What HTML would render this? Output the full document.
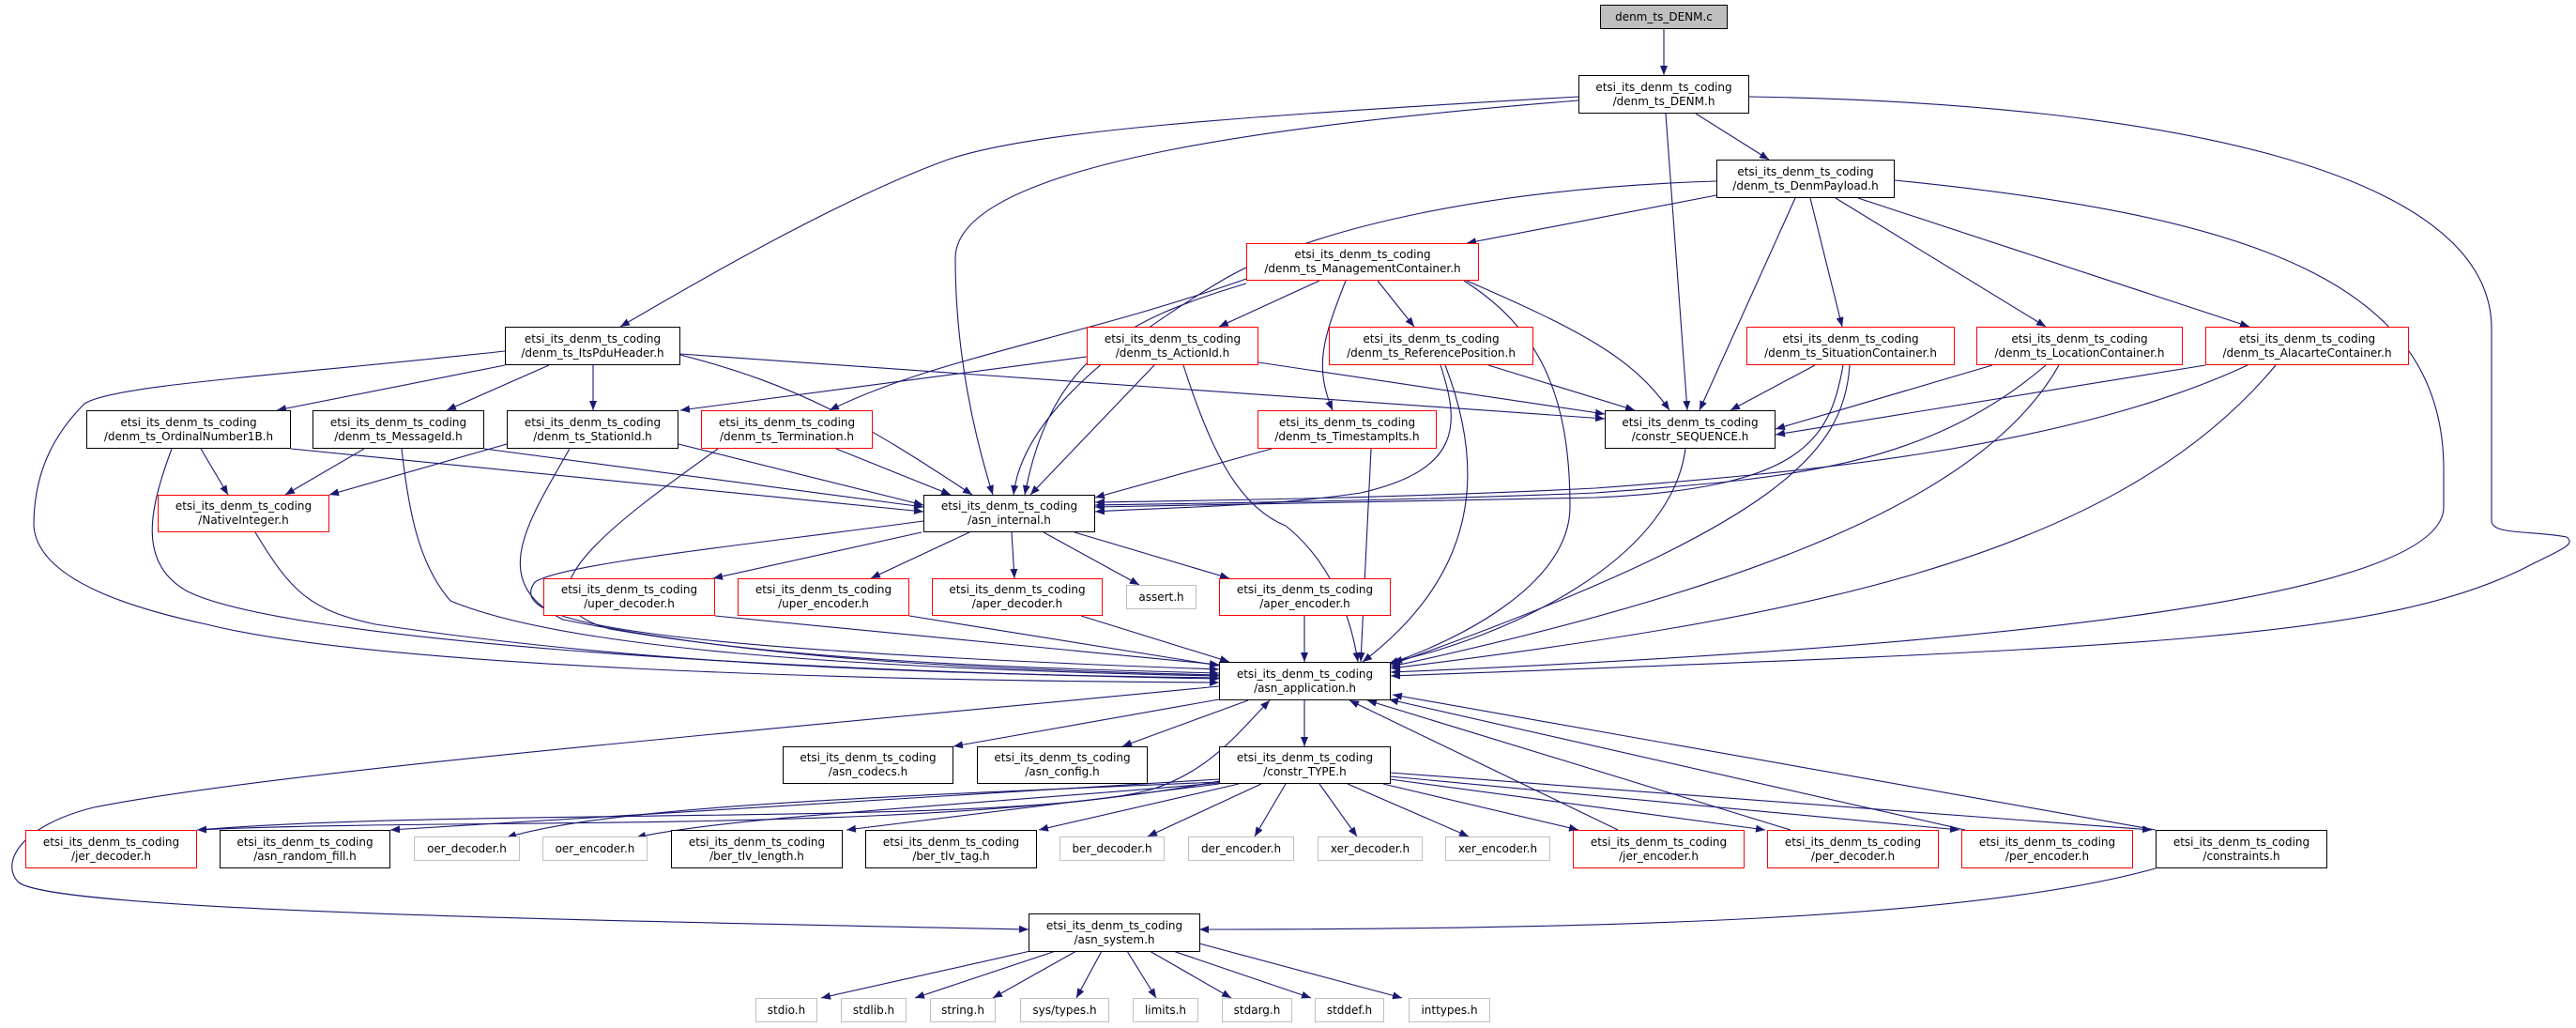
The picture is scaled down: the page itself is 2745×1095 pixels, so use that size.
<!DOCTYPE html>
<html><head><meta charset="utf-8"><style>
body{margin:0;background:#fff;width:2745px;height:1095px;position:relative;overflow:hidden;font-family:"DejaVu Sans","Liberation Sans",sans-serif;}
.n{position:absolute;box-sizing:border-box;border:1px solid #000;background:#fff;font-size:12px;line-height:15px;text-align:center;display:flex;flex-direction:column;justify-content:center;align-items:center;white-space:nowrap;color:#000}
.r{border-color:#ff0000}
.g{border-color:#bfbfbf}
svg{position:absolute;left:0;top:0}
</style></head><body>
<svg width="2745" height="1095" viewBox="0 0 2745 1095">
<defs><marker id="a" markerWidth="10" markerHeight="8" refX="10" refY="4" orient="auto" markerUnits="userSpaceOnUse"><path d="M0,0 L10,4 L0,8 z" fill="#191970"/></marker></defs>
<g fill="none" stroke="#191970" stroke-width="1.1" marker-end="url(#a)">
<path d="M1773,31 L1773,80"/>
<path d="M1682,103 C1300,125 1100,140 1010,170 C900,210 760,290 661,348"/>
<path d="M1682,107 C1400,130 1018,170 1018,275 C1018,380 1040,470 1058,527"/>
<path d="M1775,121 L1798,437"/>
<path d="M1807,121 L1885,170"/>
<path d="M1864,103 C2300,110 2655,180 2655,350 L2655,555 C2655,570 2700,565 2735,572 C2745,580 2730,585 2700,600 C2550,680 2300,690 1482,720"/>
<path d="M2019,192 C2400,230 2604,300 2604,500 L2604,540 C2604,640 2100,690 1482,716"/>
<path d="M1829,208 L1563,259"/>
<path d="M1829,193 C1600,200 1400,240 1300,300 C1200,360 1090,440 1080,527"/>
<path d="M1913,211 L1811,437"/>
<path d="M1929,211 L1963,348"/>
<path d="M1956,211 L2180,348"/>
<path d="M1980,211 L2397,348"/>
<path d="M1406,299 L1299,348"/>
<path d="M1328,297 C1150,360 1000,380 884,437"/>
<path d="M1328,302 C1200,340 1120,380 1092,527"/>
<path d="M1468,299 L1507,348"/>
<path d="M1434,299 C1410,360 1400,390 1420,437"/>
<path d="M1563,299 C1680,350 1740,380 1779,437"/>
<path d="M1560,299 C1640,350 1673,420 1673,540 C1673,620 1560,680 1480,707"/>
<path d="M1158,380 L725,437"/>
<path d="M1230,389 L1098,527"/>
<path d="M1341,386 L1710,441"/>
<path d="M1261,389 C1290,480 1320,540 1370,560 C1420,600 1440,660 1447,705"/>
<path d="M1586,389 L1742,437"/>
<path d="M1535,389 C1555,450 1560,500 1450,525 C1350,540 1250,540 1167,545"/>
<path d="M1540,389 C1575,480 1590,600 1452,705"/>
<path d="M1355,478 L1167,530"/>
<path d="M1461,478 L1450,705"/>
<path d="M1934,389 L1844,437"/>
<path d="M1964,389 C1950,470 1920,520 1700,530 C1500,535 1300,538 1167,540"/>
<path d="M1971,389 C1965,480 1900,560 1482,708"/>
<path d="M2123,389 L1892,457"/>
<path d="M2180,389 C2050,500 1900,510 1700,525 C1500,533 1300,536 1167,538"/>
<path d="M2194,389 C2120,520 1900,620 1482,710"/>
<path d="M2350,389 L1892,463"/>
<path d="M2395,389 C2200,480 1900,505 1700,520 C1500,530 1300,533 1167,535"/>
<path d="M2425,389 C2250,600 1900,660 1482,712"/>
<path d="M1796,478 C1780,600 1600,680 1484,705"/>
<path d="M538,389 L295,437"/>
<path d="M585,389 L476,437"/>
<path d="M632,389 L632,437"/>
<path d="M725,378 C850,410 920,450 1036,527"/>
<path d="M725,377 L1710,446"/>
<path d="M538,374 C300,400 120,410 90,430 C60,460 36,500 36,560 C40,620 150,650 220,665 C400,710 900,725 1299,727"/>
<path d="M214,478 L243,527"/>
<path d="M310,478 L984,545"/>
<path d="M183,478 C160,540 145,600 200,630 C300,680 800,715 1299,723"/>
<path d="M388,478 L304,527"/>
<path d="M516,478 L984,540"/>
<path d="M428,478 C435,540 445,600 480,640 C600,690 900,712 1299,720"/>
<path d="M540,473 L351,527"/>
<path d="M723,473 L984,538"/>
<path d="M607,478 C560,560 520,620 600,660 C800,700 1000,712 1299,719"/>
<path d="M891,478 L1013,527"/>
<path d="M765,478 C650,560 540,640 650,670 C850,705 1100,712 1299,717"/>
<path d="M272,567 C310,630 330,650 400,665 C700,710 1000,718 1299,722"/>
<path d="M982,567 L760,616"/>
<path d="M1033,567 L928,616"/>
<path d="M1078,567 L1081,616"/>
<path d="M1112,567 L1214,623"/>
<path d="M1145,567 L1310,616"/>
<path d="M984,555 C800,580 600,600 570,620 C540,660 650,690 1299,713"/>
<path d="M762,656 L1299,708"/>
<path d="M969,656 L1299,709"/>
<path d="M1152,656 L1310,705"/>
<path d="M1390,656 L1390,705"/>
<path d="M1299,745 L1016,795"/>
<path d="M1330,746 L1196,795"/>
<path d="M1390,746 L1390,795"/>
<path d="M1299,731 C900,770 300,820 100,860 C20,880 0,920 20,940 C60,970 600,980 1096,990"/>
<path d="M210,884 C500,860 1100,880 1230,840 C1290,820 1320,780 1353,746"/>
<path d="M1299,832 C1000,890 500,870 210,884"/>
<path d="M1299,830 L416,884"/>
<path d="M1299,833 C900,850 650,860 540,892"/>
<path d="M1299,834 C1000,860 780,870 678,892"/>
<path d="M1299,835 L902,884"/>
<path d="M1320,835 L1107,884"/>
<path d="M1344,835 L1223,891"/>
<path d="M1370,835 L1337,891"/>
<path d="M1406,835 L1446,891"/>
<path d="M1436,835 L1565,891"/>
<path d="M1474,835 L1682,884"/>
<path d="M1481,830 L1881,884"/>
<path d="M1481,827 L2088,884"/>
<path d="M1481,823 L2293,884"/>
<path d="M1724,884 L1438,746"/>
<path d="M1908,884 L1457,746"/>
<path d="M2094,884 L1480,745"/>
<path d="M2297,884 L1484,740"/>
<path d="M2297,925 C2100,980 1700,990 1278,990"/>
<path d="M1098,1013 L875,1063"/>
<path d="M1125,1013 L975,1063"/>
<path d="M1147,1013 L1058,1063"/>
<path d="M1174,1013 L1147,1063"/>
<path d="M1201,1013 L1232,1063"/>
<path d="M1225,1013 L1312,1063"/>
<path d="M1250,1013 L1397,1063"/>
<path d="M1278,1005 L1494,1063"/>
</g>
</svg>
<div class="n" style="left:1705px;top:5px;width:136px;height:26px;background:#bfbfbf">denm_ts_DENM.c</div>
<div class="n" style="left:1682px;top:80px;width:182px;height:41px">etsi_its_denm_ts_coding<br>/denm_ts_DENM.h</div>
<div class="n" style="left:1829px;top:170px;width:190px;height:41px">etsi_its_denm_ts_coding<br>/denm_ts_DenmPayload.h</div>
<div class="n r" style="left:1328px;top:259px;width:248px;height:40px">etsi_its_denm_ts_coding<br>/denm_ts_ManagementContainer.h</div>
<div class="n" style="left:538px;top:348px;width:187px;height:41px">etsi_its_denm_ts_coding<br>/denm_ts_ItsPduHeader.h</div>
<div class="n r" style="left:1158px;top:348px;width:183px;height:41px">etsi_its_denm_ts_coding<br>/denm_ts_ActionId.h</div>
<div class="n r" style="left:1416px;top:348px;width:218px;height:41px">etsi_its_denm_ts_coding<br>/denm_ts_ReferencePosition.h</div>
<div class="n r" style="left:1861px;top:348px;width:222px;height:41px">etsi_its_denm_ts_coding<br>/denm_ts_SituationContainer.h</div>
<div class="n r" style="left:2106px;top:348px;width:220px;height:41px">etsi_its_denm_ts_coding<br>/denm_ts_LocationContainer.h</div>
<div class="n r" style="left:2350px;top:348px;width:217px;height:41px">etsi_its_denm_ts_coding<br>/denm_ts_AlacarteContainer.h</div>
<div class="n" style="left:92px;top:437px;width:218px;height:41px">etsi_its_denm_ts_coding<br>/denm_ts_OrdinalNumber1B.h</div>
<div class="n" style="left:333px;top:437px;width:183px;height:41px">etsi_its_denm_ts_coding<br>/denm_ts_MessageId.h</div>
<div class="n" style="left:540px;top:437px;width:183px;height:41px">etsi_its_denm_ts_coding<br>/denm_ts_StationId.h</div>
<div class="n r" style="left:747px;top:437px;width:183px;height:41px">etsi_its_denm_ts_coding<br>/denm_ts_Termination.h</div>
<div class="n r" style="left:1340px;top:437px;width:191px;height:41px">etsi_its_denm_ts_coding<br>/denm_ts_TimestampIts.h</div>
<div class="n" style="left:1710px;top:437px;width:182px;height:41px">etsi_its_denm_ts_coding<br>/constr_SEQUENCE.h</div>
<div class="n r" style="left:168px;top:527px;width:183px;height:40px">etsi_its_denm_ts_coding<br>/NativeInteger.h</div>
<div class="n" style="left:984px;top:527px;width:183px;height:40px">etsi_its_denm_ts_coding<br>/asn_internal.h</div>
<div class="n r" style="left:579px;top:616px;width:183px;height:40px">etsi_its_denm_ts_coding<br>/uper_decoder.h</div>
<div class="n r" style="left:786px;top:616px;width:183px;height:40px">etsi_its_denm_ts_coding<br>/uper_encoder.h</div>
<div class="n r" style="left:993px;top:616px;width:182px;height:40px">etsi_its_denm_ts_coding<br>/aper_decoder.h</div>
<div class="n g" style="left:1200px;top:623px;width:75px;height:26px">assert.h</div>
<div class="n r" style="left:1299px;top:616px;width:183px;height:40px">etsi_its_denm_ts_coding<br>/aper_encoder.h</div>
<div class="n" style="left:1299px;top:705px;width:183px;height:41px">etsi_its_denm_ts_coding<br>/asn_application.h</div>
<div class="n" style="left:834px;top:795px;width:182px;height:40px">etsi_its_denm_ts_coding<br>/asn_codecs.h</div>
<div class="n" style="left:1041px;top:795px;width:182px;height:40px">etsi_its_denm_ts_coding<br>/asn_config.h</div>
<div class="n" style="left:1299px;top:795px;width:183px;height:40px">etsi_its_denm_ts_coding<br>/constr_TYPE.h</div>
<div class="n r" style="left:27px;top:884px;width:183px;height:41px">etsi_its_denm_ts_coding<br>/jer_decoder.h</div>
<div class="n" style="left:234px;top:884px;width:182px;height:41px">etsi_its_denm_ts_coding<br>/asn_random_fill.h</div>
<div class="n g" style="left:441px;top:891px;width:113px;height:26px">oer_decoder.h</div>
<div class="n g" style="left:578px;top:891px;width:112px;height:26px">oer_encoder.h</div>
<div class="n" style="left:715px;top:884px;width:183px;height:41px">etsi_its_denm_ts_coding<br>/ber_tlv_length.h</div>
<div class="n" style="left:922px;top:884px;width:183px;height:41px">etsi_its_denm_ts_coding<br>/ber_tlv_tag.h</div>
<div class="n g" style="left:1129px;top:891px;width:112px;height:26px">ber_decoder.h</div>
<div class="n g" style="left:1266px;top:891px;width:113px;height:26px">der_encoder.h</div>
<div class="n g" style="left:1404px;top:891px;width:112px;height:26px">xer_decoder.h</div>
<div class="n g" style="left:1540px;top:891px;width:112px;height:26px">xer_encoder.h</div>
<div class="n r" style="left:1676px;top:884px;width:183px;height:41px">etsi_its_denm_ts_coding<br>/jer_encoder.h</div>
<div class="n r" style="left:1883px;top:884px;width:183px;height:41px">etsi_its_denm_ts_coding<br>/per_decoder.h</div>
<div class="n r" style="left:2090px;top:884px;width:183px;height:41px">etsi_its_denm_ts_coding<br>/per_encoder.h</div>
<div class="n" style="left:2297px;top:884px;width:183px;height:41px">etsi_its_denm_ts_coding<br>/constraints.h</div>
<div class="n" style="left:1096px;top:973px;width:183px;height:41px">etsi_its_denm_ts_coding<br>/asn_system.h</div>
<div class="n g" style="left:805px;top:1063px;width:66px;height:26px">stdio.h</div>
<div class="n g" style="left:896px;top:1063px;width:70px;height:26px">stdlib.h</div>
<div class="n g" style="left:991px;top:1063px;width:70px;height:26px">string.h</div>
<div class="n g" style="left:1087px;top:1063px;width:95px;height:26px">sys/types.h</div>
<div class="n g" style="left:1207px;top:1063px;width:70px;height:26px">limits.h</div>
<div class="n g" style="left:1302px;top:1063px;width:75px;height:26px">stdarg.h</div>
<div class="n g" style="left:1401px;top:1063px;width:74px;height:26px">stddef.h</div>
<div class="n g" style="left:1501px;top:1063px;width:87px;height:26px">inttypes.h</div>
</body></html>
